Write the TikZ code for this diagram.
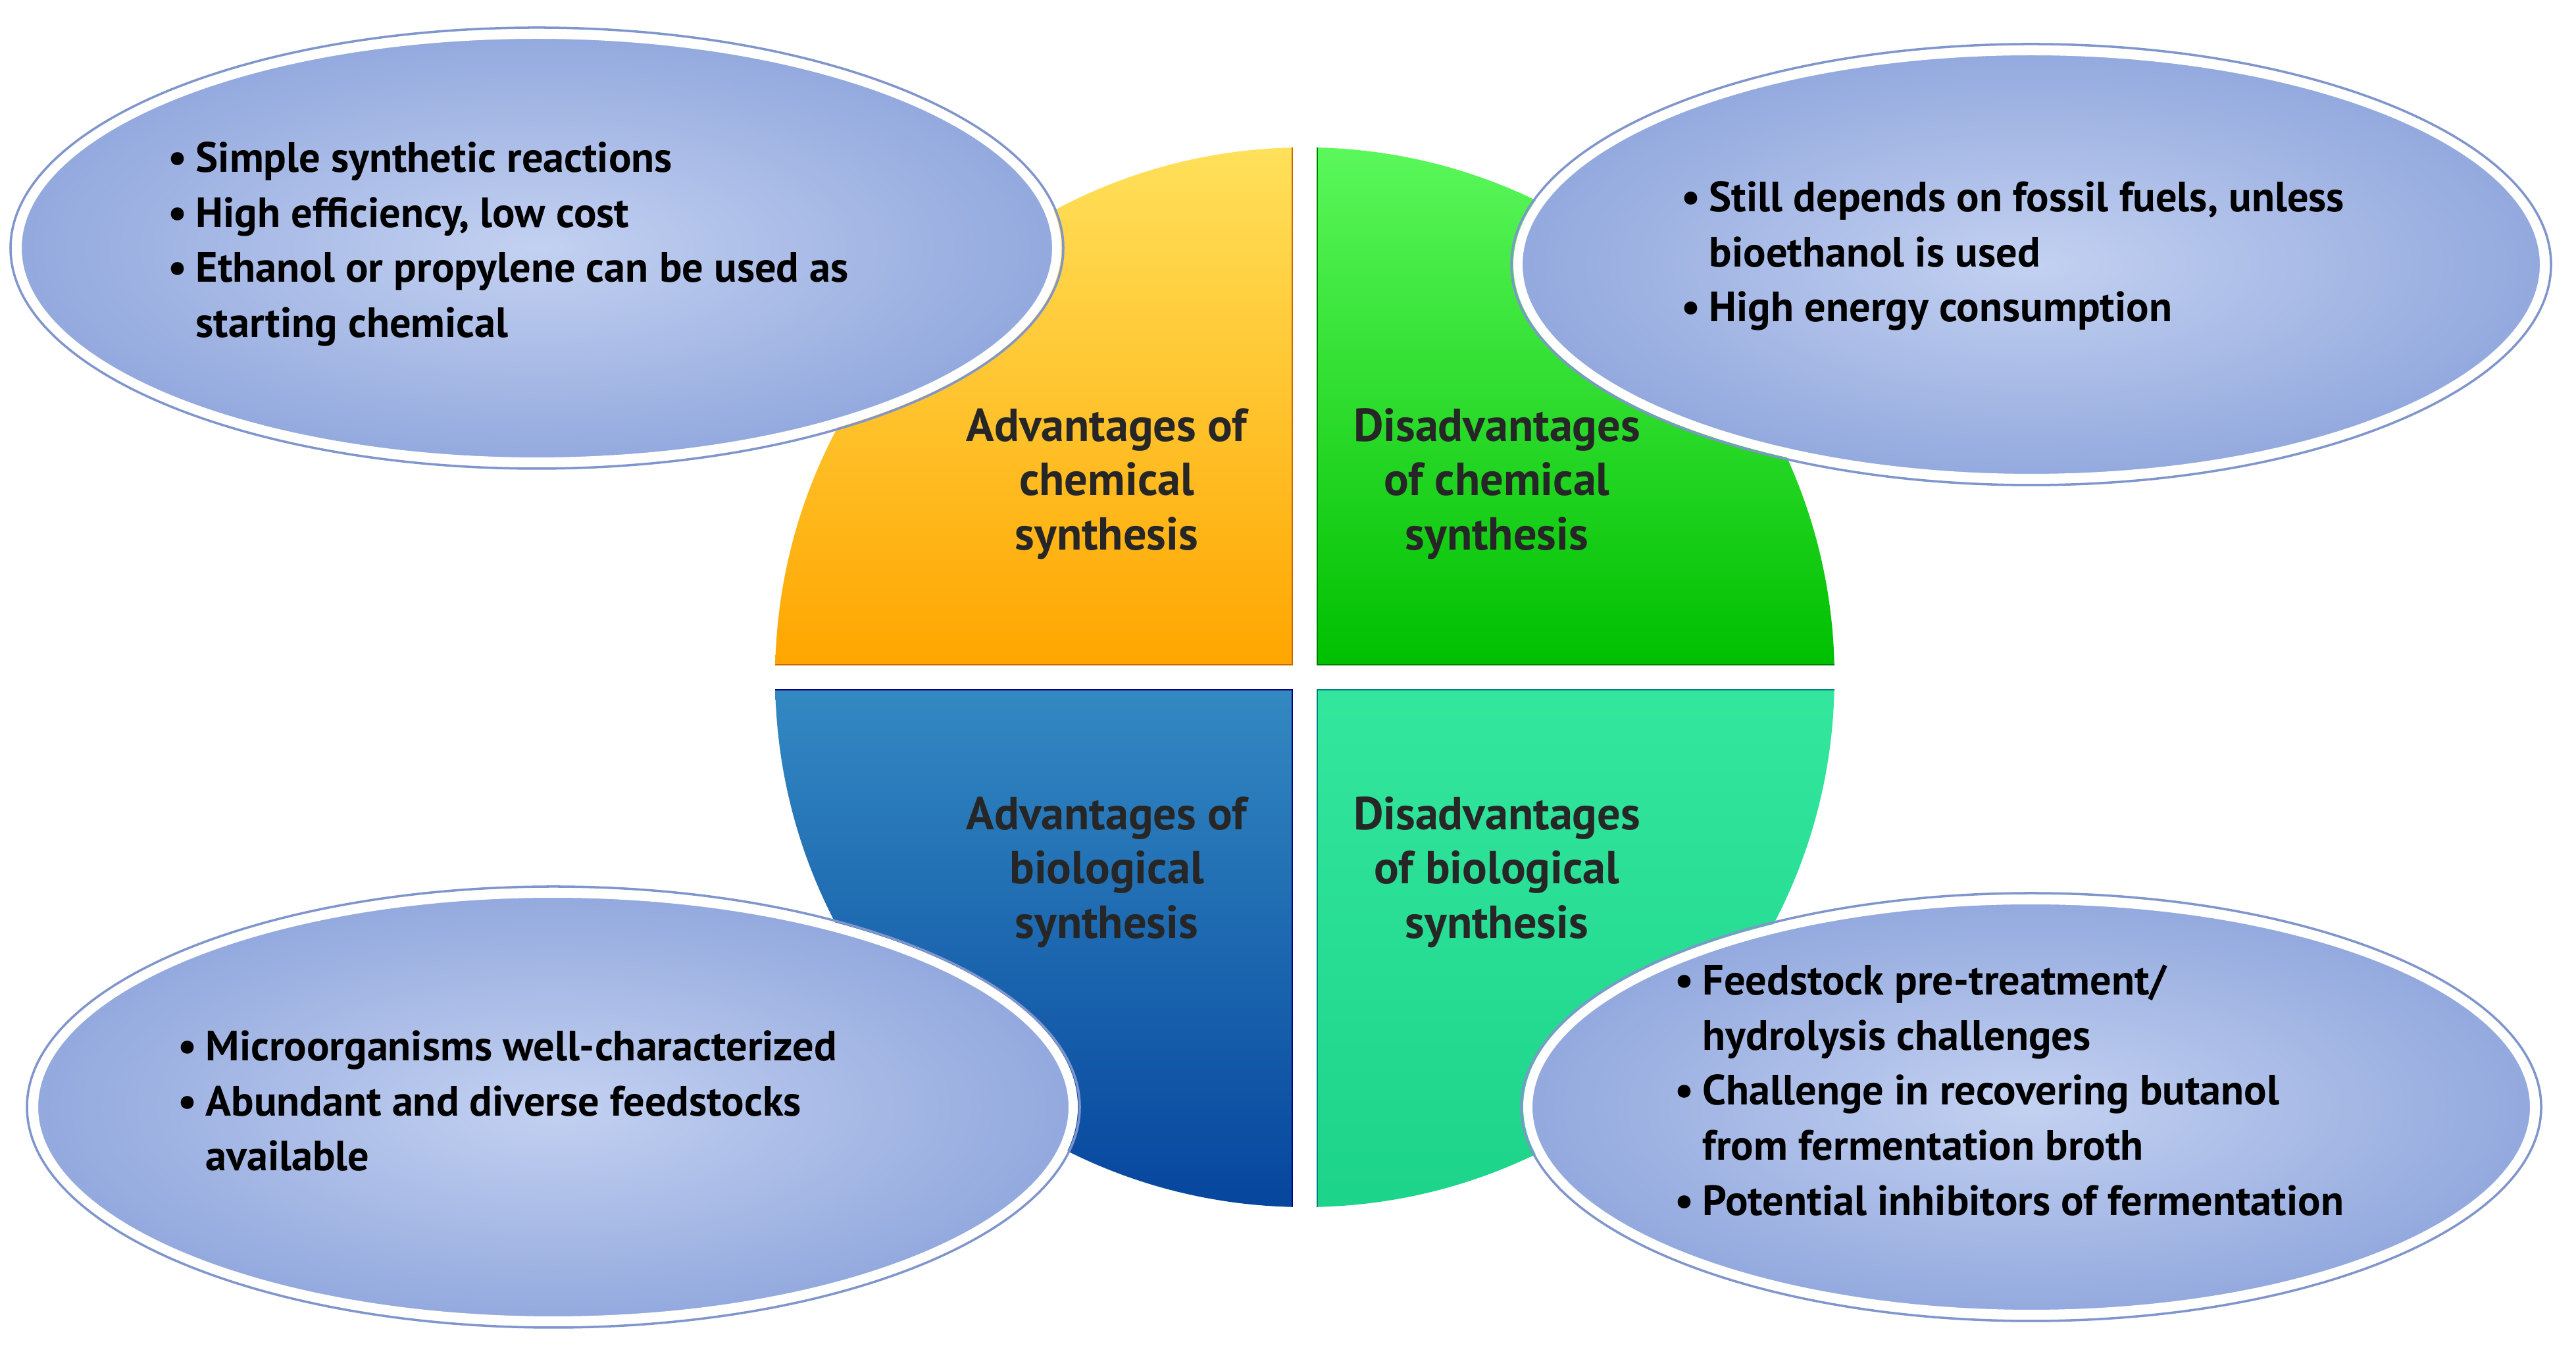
\documentclass[tikz,border=0pt]{standalone}
\usepackage{fontspec}
\setmainfont{PT Sans}
\usetikzlibrary{shapes.geometric}
\definecolor{ellin}{HTML}{C3D1F1}
\definecolor{ellout}{HTML}{93A9DE}
\definecolor{ellrim}{HTML}{7F95CC}
\tikzset{
 bub/.style={ellipse, inner color=ellin, outer color=ellout, draw=white, line width=4pt},
 bubrim/.style={ellipse, draw=ellrim, line width=1pt},
 lst/.style={anchor=north west, align=left, inner sep=0pt, font=\fontsize{18.3}{23.8}\selectfont\bfseries},
 ttl/.style={align=center, font=\fontsize{20}{23.5}\selectfont\bfseries, text=black!85}
}
\newcommand{\bl}{\makebox[0.42cm][l]{\textbullet}}
\newcommand{\ind}{\hspace*{0.42cm}}
\begin{document}
\begin{tikzpicture}
\useasboundingbox (0,0) rectangle (39.15,20.45);
\def\cx{19.83}\def\cy{10.16}\def\r{8.05}\def\g{0.19}
\begin{scope}
\clip (\cx,\cy) circle (\r);
\shade[top color=yellow!70!orange!60, bottom color=orange!70!yellow, draw=orange!80!black]
  (\cx-\g,\cy+\g) rectangle (\cx-\r-1,\cy+\r+1);
\shade[top color=green!60!white, bottom color=green!75!black, draw=green!50!black]
  (\cx+\g,\cy+\g) rectangle (\cx+\r+1,\cy+\r+1);
\shade[top color=blue!40!cyan!70!black!80, bottom color=blue!60!cyan!60!black, draw=blue!50!black]
  (\cx-\g,\cy-\g) rectangle (\cx-\r-1,\cy-\r-1);
\shade[top color=teal!40!green!60!cyan!80, bottom color=cyan!60!green!80!black!90, draw=teal]
  (\cx+\g,\cy-\g) rectangle (\cx+\r+1,\cy-\r-1);
\end{scope}
\node[ttl] (q1) at (16.82,13.1) {Advantages of\\chemical\\synthesis};
\node[ttl] (q2) at (22.75,13.1) {Disadvantages\\of chemical\\synthesis};
\node[ttl] (q3) at (16.82,7.2) {Advantages of\\biological\\synthesis};
\node[ttl] (q4) at (22.75,7.2) {Disadvantages\\of biological\\synthesis};
\node[bub, minimum width=15.8cm, minimum height=6.5cm] (e1) at (8.16,16.68) {};
\node[bubrim, minimum width=16.0cm, minimum height=6.7cm] (e1r) at (8.16,16.68) {};
\node[bub, minimum width=15.6cm, minimum height=6.5cm] (e2) at (30.87,16.43) {};
\node[bubrim, minimum width=15.8cm, minimum height=6.7cm] (e2r) at (30.87,16.43) {};
\node[bub, minimum width=15.8cm, minimum height=6.5cm] (e3) at (8.41,3.63) {};
\node[bubrim, minimum width=16.0cm, minimum height=6.7cm] (e3r) at (8.41,3.63) {};
\node[bub, minimum width=15.3cm, minimum height=6.3cm] (e4) at (30.87,3.63) {};
\node[bubrim, minimum width=15.5cm, minimum height=6.5cm] (e4r) at (30.87,3.63) {};
\node[lst] (t1) at (2.55,18.3) {\bl Simple synthetic reactions\\\bl High efficiency, low cost\\\bl Ethanol or propylene can be used as\\\ind starting chemical};
\node[lst] (t2) at (25.55,17.7) {\bl Still depends on fossil fuels, unless\\\ind bioethanol is used\\\bl High energy consumption};
\node[lst] (t3) at (2.7,4.8) {\bl Microorganisms well-characterized\\\bl Abundant and diverse feedstocks\\\ind available};
\node[lst] (t4) at (25.45,5.8) {\bl Feedstock pre-treatment/\\\ind hydrolysis challenges\\\bl Challenge in recovering butanol\\\ind from fermentation broth\\\bl Potential inhibitors of fermentation};
\end{tikzpicture}
\end{document}
